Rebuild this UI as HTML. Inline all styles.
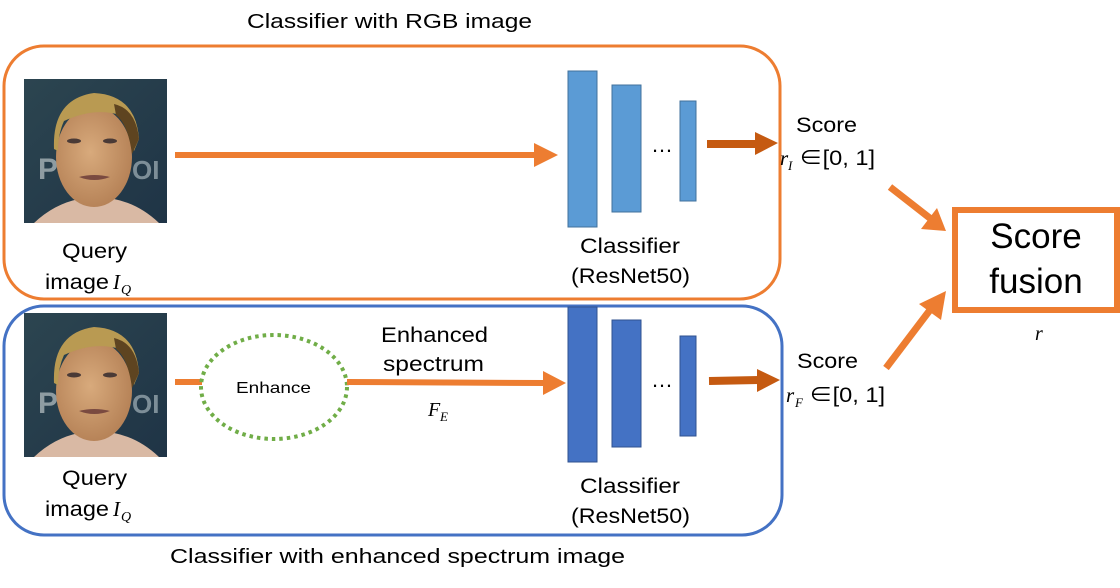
<!DOCTYPE html>
<html><head><meta charset="utf-8"><style>
html,body{margin:0;padding:0;background:#fff;width:1120px;height:588px;overflow:hidden}
svg{display:block}
text{font-family:"Liberation Sans","Noto Sans CJK JP",sans-serif;fill:#000}
.m{font-family:"Liberation Serif",serif;font-style:italic}
</style></head><body>
<svg width="1120" height="588" viewBox="0 0 1120 588" xmlns="http://www.w3.org/2000/svg">
<defs>
<linearGradient id="bg" x1="0" y1="0" x2="1" y2="1"><stop offset="0" stop-color="#2c4550"/><stop offset="1" stop-color="#1f3446"/></linearGradient>
<radialGradient id="sk" cx="0.45" cy="0.45" r="0.6"><stop offset="0" stop-color="#d8aa7c"/><stop offset="1" stop-color="#b48055"/></radialGradient>
<g id="face">
<rect x="0" y="0" width="143" height="144" fill="url(#bg)"/>
<text x="14" y="100" font-size="30" font-weight="bold" style="fill:#8e9ca2">P</text>
<text x="108" y="100" font-size="26" font-weight="bold" style="fill:#7d8e98">OI</text>
<path d="M10 144 Q30 125 55 120 L90 120 Q115 125 135 144 Z" fill="#d9b9a4"/>
<ellipse cx="70" cy="78" rx="38" ry="50" fill="url(#sk)"/>
<path d="M30 70 Q28 20 70 14 Q112 16 115 60 L110 72 Q104 40 96 36 Q70 28 40 42 Q34 55 34 72 Z" fill="#b99a52"/>
<path d="M90 25 Q112 30 115 60 L108 75 Q104 45 92 36 Z" fill="#5e4420"/>
<ellipse cx="50" cy="62" rx="7" ry="2.5" fill="#4a3a36"/>
<ellipse cx="86" cy="62" rx="7" ry="2.5" fill="#4a3a36"/>
<path d="M55 98 Q70 94 86 98 Q70 104 55 98Z" fill="#7a4a40"/>
</g>
</defs>

<text x="247" y="28" font-size="20" textLength="285" lengthAdjust="spacingAndGlyphs">Classifier with RGB image</text>
<rect x="4" y="46" width="776" height="253" rx="40" fill="none" stroke="#ED7D31" stroke-width="3"/>
<rect x="4" y="306" width="778" height="229" rx="40" fill="none" stroke="#4472C4" stroke-width="3"/>
<text x="170" y="563" font-size="20" textLength="455" lengthAdjust="spacingAndGlyphs">Classifier with enhanced spectrum image</text>

<use href="#face" x="24" y="79"/>
<use href="#face" x="24" y="313"/>

<text x="62" y="258" font-size="21" textLength="65" lengthAdjust="spacingAndGlyphs">Query</text>
<text x="45" y="289" font-size="21" textLength="64" lengthAdjust="spacingAndGlyphs">image</text><text x="113" y="289" font-size="21" class="m">I</text><text x="121" y="294" font-size="14" class="m">Q</text>
<text x="62" y="485" font-size="21" textLength="65" lengthAdjust="spacingAndGlyphs">Query</text>
<text x="45" y="516" font-size="21" textLength="64" lengthAdjust="spacingAndGlyphs">image</text><text x="113" y="516" font-size="21" class="m">I</text><text x="121" y="521" font-size="14" class="m">Q</text>

<line x1="175" y1="155" x2="536" y2="155" stroke="#ED7D31" stroke-width="6"/>
<polygon points="534,143 558,155 534,167" fill="#ED7D31"/>

<rect x="568" y="71" width="29" height="156" fill="#5B9BD5" stroke="#41719C" stroke-width="1"/>
<rect x="612" y="85" width="29" height="127" fill="#5B9BD5" stroke="#41719C" stroke-width="1"/>
<rect x="680" y="101" width="16" height="100" fill="#5B9BD5" stroke="#41719C" stroke-width="1"/>
<text x="662" y="152" font-size="22" text-anchor="middle">…</text>
<line x1="707" y1="144" x2="757" y2="144" stroke="#C55A11" stroke-width="8"/>
<polygon points="755,132 778,143 755,155" fill="#C55A11"/>
<text x="580" y="253" font-size="21" textLength="100" lengthAdjust="spacingAndGlyphs">Classifier</text>
<text x="571" y="283" font-size="21" textLength="119" lengthAdjust="spacingAndGlyphs">(ResNet50)</text>

<rect x="568" y="307" width="29" height="155" fill="#4472C4" stroke="#2F528F" stroke-width="1"/>
<rect x="612" y="320" width="29" height="127" fill="#4472C4" stroke="#2F528F" stroke-width="1"/>
<rect x="680" y="336" width="16" height="100" fill="#4472C4" stroke="#2F528F" stroke-width="1"/>
<text x="662" y="387" font-size="22" text-anchor="middle">…</text>
<line x1="709" y1="381" x2="759" y2="380" stroke="#C55A11" stroke-width="8"/>
<polygon points="757,369 780,380 757,392" fill="#C55A11"/>
<text x="580" y="493" font-size="21" textLength="100" lengthAdjust="spacingAndGlyphs">Classifier</text>
<text x="571" y="523" font-size="21" textLength="119" lengthAdjust="spacingAndGlyphs">(ResNet50)</text>

<line x1="175" y1="382" x2="202" y2="382" stroke="#ED7D31" stroke-width="6"/>
<ellipse cx="274" cy="387" rx="73" ry="52" fill="none" stroke="#70AD47" stroke-width="4" stroke-dasharray="3.5 4"/>
<text x="236" y="393" font-size="16" textLength="75" lengthAdjust="spacingAndGlyphs">Enhance</text>
<line x1="347" y1="382" x2="545" y2="383" stroke="#ED7D31" stroke-width="6"/>
<polygon points="543,371 566,383 543,395" fill="#ED7D31"/>
<text x="381" y="342" font-size="21" textLength="107" lengthAdjust="spacingAndGlyphs">Enhanced</text>
<text x="383" y="371" font-size="21" textLength="101" lengthAdjust="spacingAndGlyphs">spectrum</text>
<text x="428" y="416" font-size="20" class="m">F</text><text x="440" y="421" font-size="13" class="m">E</text>

<text x="796" y="132" font-size="21" textLength="61" lengthAdjust="spacingAndGlyphs">Score</text>
<text x="780" y="165" font-size="21" class="m">r</text><text x="788" y="170" font-size="13" class="m">I</text><text x="799" y="165" font-size="21" textLength="76" lengthAdjust="spacingAndGlyphs">∈[0, 1]</text>
<text x="797" y="368" font-size="21" textLength="61" lengthAdjust="spacingAndGlyphs">Score</text>
<text x="786" y="402" font-size="21" class="m">r</text><text x="795" y="407" font-size="13" class="m">F</text><text x="809" y="402" font-size="21" textLength="76" lengthAdjust="spacingAndGlyphs">∈[0, 1]</text>

<line x1="890" y1="187" x2="931" y2="219" stroke="#ED7D31" stroke-width="7"/>
<polygon points="921,229 946,231 937,208" fill="#ED7D31"/>
<line x1="886" y1="368" x2="930" y2="310" stroke="#ED7D31" stroke-width="7"/>
<polygon points="919,304 946,291 941,320" fill="#ED7D31"/>
<rect x="955" y="210" width="162" height="100" fill="none" stroke="#ED7D31" stroke-width="6"/>
<text x="1036" y="248" font-size="35" text-anchor="middle">Score</text>
<text x="1036" y="293" font-size="35" text-anchor="middle">fusion</text>
<text x="1035" y="340" font-size="20" class="m">r</text>
</svg>
</body></html>
